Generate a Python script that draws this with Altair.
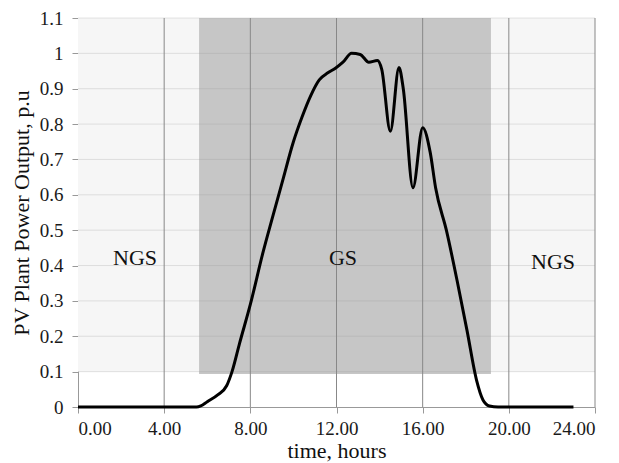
import altair as alt
import pandas as pd

hours = [0, 2, 4, 5.5, 5.7, 6.0, 6.5, 6.9, 7.15, 7.5, 8.0, 8.6, 9.0, 9.5, 10.0, 10.4, 10.8, 11.2,
         11.6, 11.95, 12.3, 12.7, 13.1, 13.5, 13.9, 14.1, 14.5, 14.9, 15.1, 15.55, 16.0, 16.35,
         16.6, 17.1, 17.6, 18.06, 18.5, 18.8, 19.1, 19.5, 21, 23.0]
power = [0, 0, 0, 0, 0.003, 0.015, 0.035, 0.06, 0.1, 0.18, 0.29, 0.44, 0.53, 0.64, 0.75, 0.82,
         0.88, 0.925, 0.945, 0.958, 0.975, 1.0, 0.997, 0.975, 0.98, 0.955, 0.78, 0.96, 0.9,
         0.62, 0.79, 0.72, 0.62, 0.5, 0.357, 0.216, 0.076, 0.02, 0.003, 0, 0, 0]

region_x = [0, 5.62]
region_x2 = [24, 19.17]
region_y = [0.1, 0.093]
region_y2 = [1.1, 1.1]
region_color = ["#f6f6f6", "#c6c6c6"]

labels = ["NGS", "GS", "NGS"]
label_x = [2.65, 12.3, 22.05]
label_y = [0.42, 0.42, 0.41]

grid_x = [4, 8, 12, 16, 20, 24]
grid_y = [0.1, 0.2, 0.3, 0.4, 0.5, 0.6, 0.7, 0.8, 0.9, 1.0, 1.1]
x_ticks = [0, 4, 8, 12, 16, 20, 24]
y_ticks = [0] + grid_y

font = "Liberation Serif"

xs = alt.Scale(domain=[0, 24], nice=False)
ys = alt.Scale(domain=[0, 1.1], nice=False)

common = dict(grid=False, labelFont=font, labelFontSize=19, labelColor="#1a1a1a",
              labelOverlap=False, titleFont=font, titleFontSize=22,
              titleFontWeight="normal", titleColor="#111", domainColor="#999",
              tickColor="#999", tickSize=6)
x_axis = alt.Axis(values=x_ticks, format=".2f", labelPadding=6, titlePadding=2, **common)
y_axis = alt.Axis(values=y_ticks, format=".1~f", labelPadding=9, titlePadding=6, **common)


def X(field):
    return alt.X(field, type="quantitative", scale=xs, axis=x_axis, title="time, hours")


def Y(field):
    return alt.Y(field, type="quantitative", scale=ys, axis=y_axis,
                 title="PV Plant Power Output, p.u")


regions = pd.DataFrame({"x": region_x, "x2": region_x2, "y": region_y, "y2": region_y2,
                        "c": region_color})
rects = alt.Chart(regions).mark_rect().encode(
    x=X("x"), x2="x2:Q", y=Y("y"), y2="y2:Q",
    color=alt.Color("c:N", scale=None),
)

hgrid = alt.Chart(pd.DataFrame({"y": grid_y})).mark_rule(color="#999", opacity=0.25).encode(
    y=Y("y"), x=alt.value(0), x2=alt.value(517))
vgrid = alt.Chart(pd.DataFrame({"x": grid_x})).mark_rule(color="#888", strokeWidth=1).encode(
    x=X("x"))

line = alt.Chart(pd.DataFrame({"h": hours, "p": power})).mark_line(
    color="black", strokeWidth=3, interpolate="monotone").encode(x=X("h"), y=Y("p"))

text = alt.Chart(pd.DataFrame({"t": labels, "x": label_x, "y": label_y})).mark_text(
    font=font, fontSize=22, color="#111").encode(x=X("x"), y=Y("y"), text="t:N")

chart = alt.layer(rects, hgrid, vgrid, line, text).properties(
    width=517, height=389, background="white",
    autosize=alt.AutoSizeParams(type="none"),
    padding={"left": 70, "top": 10, "right": 8, "bottom": 56},
).configure_view(stroke=None)

chart.save("out.html", embed_options={"renderer": "svg", "actions": False})
